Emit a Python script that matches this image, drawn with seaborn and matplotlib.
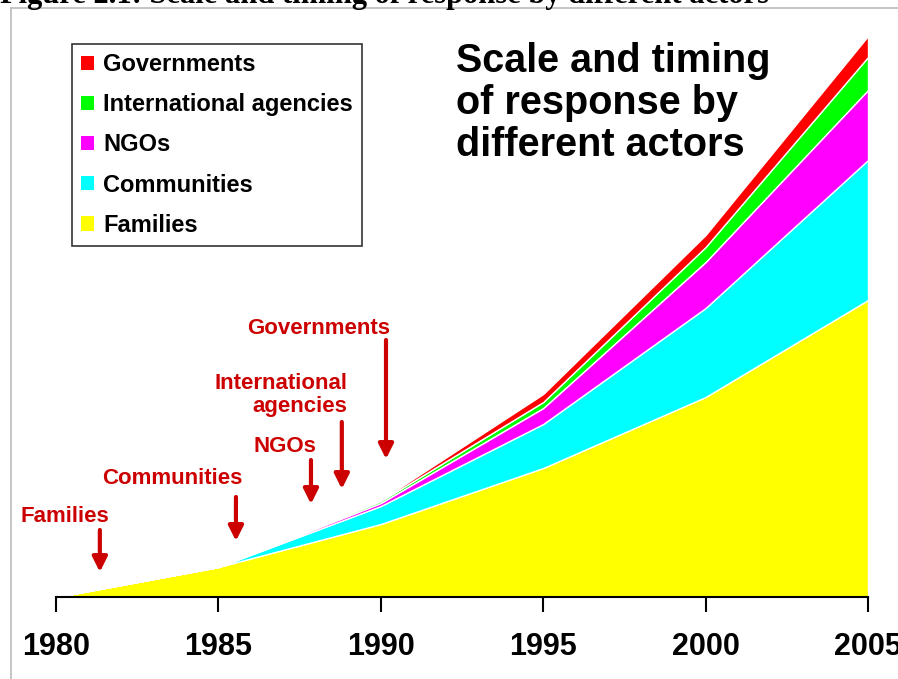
import matplotlib
matplotlib.use("Agg")
import matplotlib.pyplot as plt
import seaborn as sns
from matplotlib.patches import Patch
from matplotlib.lines import Line2D

# data (relative scale of response)
years = [1980, 1985, 1990, 1995, 2000, 2005]
families = [0, 30, 73, 129, 200, 297]
communities = [0, 0, 18, 44, 89, 140]
ngos = [0, 0, 3, 16, 46, 70]
intl_agencies = [0, 0, 2, 6, 15, 33]
governments = [0, 0, 1, 8, 12, 21]

series_names = ["Families", "Communities", "NGOs", "International agencies", "Governments"]
series_colors = ["#FFFF00", "#00FFFF", "#FF00FF", "#00FF00", "#FF0000"]

# when each actor came in: label, label position, arrow x, arrow start/end
entry_labels = ["Families", "Communities", "NGOs", "International\nagencies", "Governments"]
entry_label_x = [1980.28, 1983.57, 1987.05, 1988.96, 1988.1]
entry_label_y = [80, 118, 150, 202, 269]
entry_label_ha = ["center", "center", "center", "right", "center"]
arrow_x = [1981.35, 1985.54, 1987.85, 1988.8, 1990.16]
arrow_top = [67, 100, 137, 175, 257]
arrow_bottom = [25, 56, 93, 108, 138]

sns.set_style("white")
plt.rcParams['font.family'] = ['Liberation Sans', 'DejaVu Sans']
plt.rcParams['text.color'] = 'black'
plt.rcParams['xtick.color'] = 'black'
plt.rcParams['xtick.labelcolor'] = 'black'

W, H = 898, 679
fig = plt.figure(figsize=(W / 100, H / 100), dpi=100)
ax = fig.add_axes([56 / W, 1 - 597 / H, (868 - 56) / W, (597 - 20) / H])

ax.stackplot(years, families, communities, ngos, intl_agencies, governments,
             colors=series_colors, labels=series_names,
             edgecolor="white", linewidth=1.0)

ax.set_xlim(1980, 2005)
ax.set_ylim(0, 577)
ax.set_xticks(years)
ax.set_xticklabels([str(y) for y in years], fontsize=22, fontweight="bold", color="black")
ax.set_yticks([])
ax.tick_params(axis="x", direction="out", length=11, width=1.5, pad=14,
               bottom=True, color="black")
sns.despine(ax=ax, left=True, top=True, right=True)
ax.spines["bottom"].set_color("black")
ax.spines["bottom"].set_linewidth(1.5)
ax.patch.set_alpha(0)

arrow_red = "#CC0000"
for lab, lx, ly, ha, axx, at, ab in zip(entry_labels, entry_label_x, entry_label_y,
                                         entry_label_ha, arrow_x, arrow_top, arrow_bottom):
    ax.text(lx, ly, lab, ha=ha, va="center", fontsize=16, fontweight="bold",
            color=arrow_red, multialignment="right", linespacing=1.1)
    ax.annotate("", xy=(axx, ab), xytext=(axx, at),
                arrowprops=dict(arrowstyle="-|>", color=arrow_red, lw=3,
                                mutation_scale=22, shrinkA=0, shrinkB=0))

ax.text(1992.31, 494, "Scale and timing\nof response by\ndifferent actors",
        ha="left", va="center", fontsize=28.5, fontweight="bold",
        color="black", linespacing=1.12)

handles = [Patch(facecolor=c, edgecolor="none") for c in series_colors][::-1]
leg = fig.legend(handles, series_names[::-1], loc="upper left",
                 bbox_to_anchor=(72 / W, 1 - 44 / H), borderaxespad=0,
                 prop={"family": "Liberation Sans", "weight": "bold", "size": 17},
                 frameon=True, fancybox=False, edgecolor="black",
                 handlelength=0.55, handleheight=0.55, handletextpad=0.4,
                 labelspacing=0.73, borderpad=0.38)
leg.get_frame().set_linewidth(1.2)
for t in leg.get_texts():
    t.set_color("black")

# page frame and clipped caption from the report
fig.add_artist(Line2D([11 / W, 1], [1 - 8 / H, 1 - 8 / H], color="#BBBBBB", lw=1.2))
fig.add_artist(Line2D([11 / W, 11 / W], [0, 1 - 8 / H], color="#BBBBBB", lw=1.2))
fig.text(0.0, 1 - 2.5 / H, "Figure 2.1: Scale and timing of response by different actors",
         ha="left", va="baseline", fontsize=22, fontweight="bold", color="black",
         family=["Liberation Serif", "DejaVu Serif"])

fig.savefig("out.png", dpi=100)
